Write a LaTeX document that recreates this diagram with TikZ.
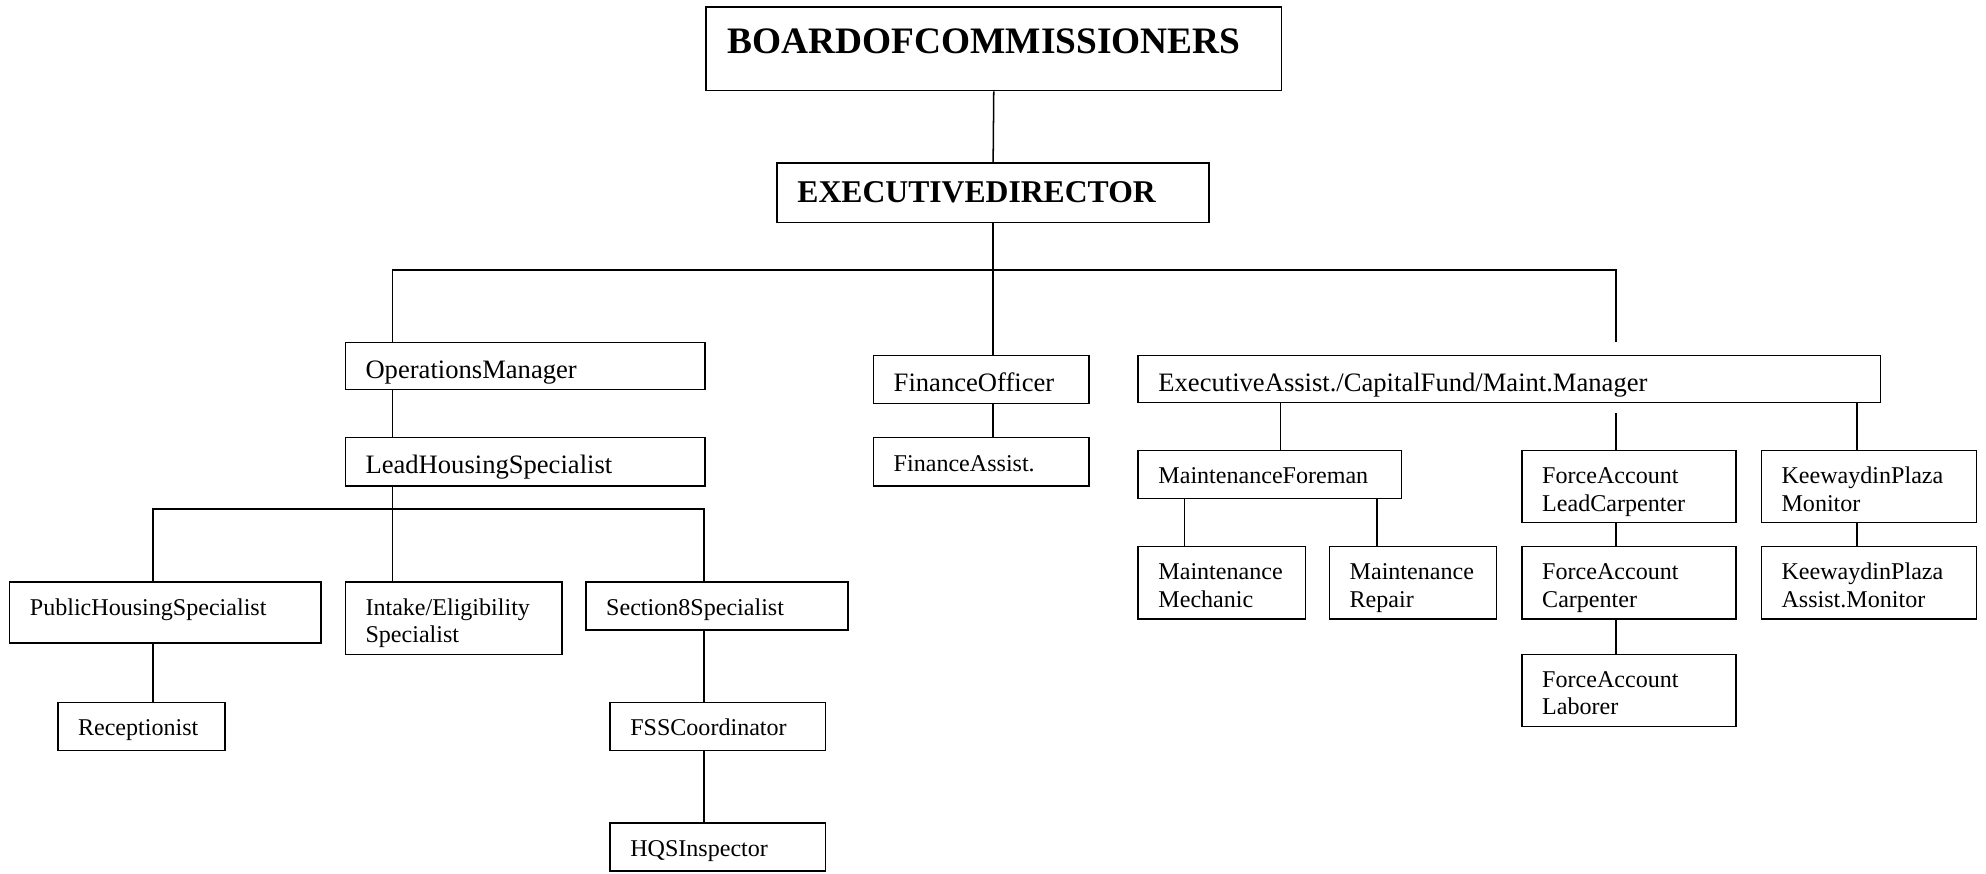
\documentclass[tikz,border=0pt]{standalone}
\usepackage{fontspec}
\setmainfont{Liberation Serif}
\usepackage{tikz}
\usetikzlibrary{positioning}
\tikzset{
  box/.style={rectangle, draw=black, anchor=north west, align=left,
    inner xsep=16pt, inner ysep=0pt, line width=1.2pt, text height=26.3pt,
    font=\fontsize{19}{21.6}\selectfont},
  bigbox/.style={box, text height=28.4pt, font=\fontsize{21}{24}\selectfont},
  onerow/.style={text depth=11.7pt},
  tworow/.style={text depth=30.7pt},
  titlebox/.style={rectangle, draw=black, anchor=north west, align=left,
    inner xsep=16pt, inner ysep=0pt, line width=1.2pt,
    font=\bfseries\fontsize{25}{29}\selectfont},
  conn/.style={line width=1.2pt, color=black}
}
\begin{document}
\begin{tikzpicture}[x=1pt,y=-1pt]
  \useasboundingbox (0,0) rectangle (1568,690);

  % Top levels
  \node[titlebox, inner xsep=17pt, text width=420pt, minimum height=66pt, text depth=12pt,
    font=\bfseries\fontsize{29.5}{34}\selectfont] (board) at (557,5) {BOARDOFCOMMISSIONERS};
  \node[titlebox, text width=309pt, minimum height=47pt] (exec) at (613,128) {EXECUTIVEDIRECTOR};

  % Operations branch
  \node[bigbox, text width=252pt, text depth=8.6pt] (opsmgr) at (272,270) {OperationsManager};
  \node[bigbox, text width=252pt, text depth=9.6pt] (leadhs) at (272,345) {LeadHousingSpecialist};
  \node[box, text width=214pt, text depth=21.7pt] (pubhs) at (7,459) {PublicHousingSpecialist};
  \node[box, tworow, text width=139pt] (intake) at (272,459) {Intake/Eligibility\\Specialist};
  \node[box, onerow, text width=175pt] (sec8) at (462,459) {Section8Specialist};
  \node[box, onerow, text width=100pt] (recep) at (45,554) {Receptionist};
  \node[box, onerow, text width=138pt] (fss) at (481,554) {FSSCoordinator};
  \node[box, onerow, text width=138pt] (hqs) at (481,649) {HQSInspector};

  % Finance branch
  \node[bigbox, text width=138pt, text depth=9.6pt] (finoff) at (689,280) {FinanceOfficer};
  \node[box, onerow, text width=138pt] (finasst) at (689,345) {FinanceAssist.};

  % Maintenance branch
  \node[bigbox, text width=554pt, text depth=8.6pt] (execasst) at (898,280) {ExecutiveAssist./CapitalFund/Maint.Manager};
  \node[box, onerow, text width=176pt] (mfore) at (898,355) {MaintenanceForeman};
  \node[box, tworow, text width=100pt] (mmech) at (898,431) {Maintenance\\Mechanic};
  \node[box, tworow, text width=100pt] (mrep) at (1049,431) {Maintenance\\Repair};
  \node[box, tworow, text width=137pt] (falead) at (1201,355) {ForceAccount\\LeadCarpenter};
  \node[box, tworow, text width=137pt] (facarp) at (1201,431) {ForceAccount\\Carpenter};
  \node[box, tworow, text width=137pt] (falab) at (1201,516) {ForceAccount\\Laborer};
  \node[box, tworow, text width=138pt] (kpmon) at (1390,355) {KeewaydinPlaza\\Monitor};
  \node[box, tworow, text width=138pt] (kpasst) at (1390,431) {KeewaydinPlaza\\Assist.Monitor};

  % Bus points
  \coordinate (busL) at (310,213);
  \coordinate (busR) at (1276,213);
  \coordinate (busRend) at (1276,270);
  \coordinate (hsbusL) at (121,402);
  \coordinate (hsbusM) at (310,402);
  \coordinate (hsbusR) at (556,402);
  \coordinate (forecol) at (1011,317);
  \coordinate (fagap) at (1276,326);
  \coordinate (kpcol) at (1466,317);
  \coordinate (mechcol) at (935,393);
  \coordinate (repcol) at (1087,393);

  % Connectors
  \draw[conn] (board.south) -- (exec.north);
  \draw[conn] (exec.south) -- (exec.south |- finoff.north);
  \draw[conn] (opsmgr.north -| busL) -- (busL) -- (busR) -- (busRend);
  \draw[conn] (opsmgr.south -| busL) -- (leadhs.north -| busL);
  \draw[conn] (leadhs.south -| hsbusM) -- (intake.north -| hsbusM);
  \draw[conn] (pubhs.north -| hsbusL) -- (hsbusL) -- (hsbusR) -- (sec8.north -| hsbusR);
  \draw[conn] (pubhs.south -| hsbusL) -- (recep.north -| hsbusL);
  \draw[conn] (sec8.south -| hsbusR) -- (fss.north -| hsbusR);
  \draw[conn] (fss.south -| hsbusR) -- (hqs.north -| hsbusR);
  \draw[conn] (finoff.south -| exec.south) -- (finasst.north -| exec.south);
  \draw[conn] (execasst.south -| forecol) -- (mfore.north -| forecol);
  \draw[conn] (fagap) -- (falead.north -| fagap);
  \draw[conn] (execasst.south -| kpcol) -- (kpmon.north -| kpcol);
  \draw[conn] (mfore.south -| mechcol) -- (mmech.north -| mechcol);
  \draw[conn] (mfore.south -| repcol) -- (mrep.north -| repcol);
  \draw[conn] (falead.south -| fagap) -- (facarp.north -| fagap);
  \draw[conn] (facarp.south -| fagap) -- (falab.north -| fagap);
  \draw[conn] (kpmon.south -| kpcol) -- (kpasst.north -| kpcol);
\end{tikzpicture}
\end{document}
